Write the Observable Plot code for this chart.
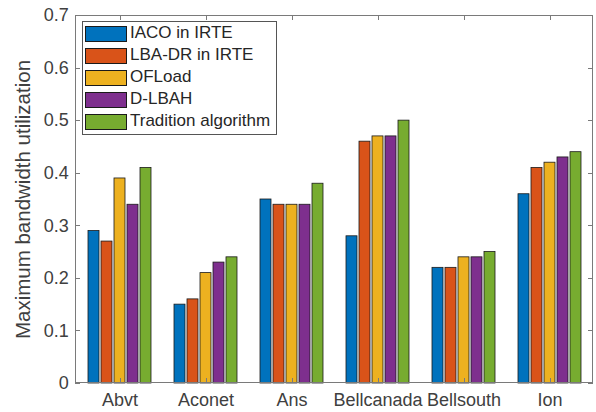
<!DOCTYPE html>
<html>
<head>
<meta charset="utf-8">
<script src="https://cdn.jsdelivr.net/npm/d3@7"></script>
<script src="https://cdn.jsdelivr.net/npm/@observablehq/plot@0.6"></script>
<style>
  html, body { margin: 0; padding: 0; background: #fff; }
  #wrap { position: relative; width: 596px; height: 412px; font-family: "Liberation Sans", Arial, sans-serif; }
  #legend { position: absolute; left: 82px; top: 21px; width: 195px; height: 114px; box-sizing: border-box;
            border: 1px solid #555; background: #fff; }
  .row { position: absolute; left: 2px; height: 16px; }
  .sw { position: absolute; left: 0; top: 0; width: 42px; height: 16px; box-sizing: border-box; border: 1px solid #1a1a1a; }
  .lab { position: absolute; left: 45px; top: -3px; font-size: 17px; line-height: 20px; color: #262626; white-space: nowrap; }
</style>
</head>
<body>
<div id="wrap"><div id="legend"></div></div>
<script>
const categories = ["Abvt", "Aconet", "Ans", "Bellcanada", "Bellsouth", "Ion"];
const series = ["IACO in IRTE", "LBA-DR in IRTE", "OFLoad", "D-LBAH", "Tradition algorithm"];
const colors = ["#0072BD", "#D95319", "#EDB120", "#7E2F8E", "#77AC30"];
const iacoInIRTE   = [0.29, 0.15, 0.35, 0.28, 0.22, 0.36];
const lbaDrInIRTE  = [0.27, 0.16, 0.34, 0.46, 0.22, 0.41];
const ofload       = [0.39, 0.21, 0.34, 0.47, 0.24, 0.42];
const dLbah        = [0.34, 0.23, 0.34, 0.47, 0.24, 0.43];
const tradition    = [0.41, 0.24, 0.38, 0.50, 0.25, 0.44];
const yTicks = [0, 0.1, 0.2, 0.3, 0.4, 0.5, 0.6, 0.7];
const yLabel = "Maximum bandwidth utilization";

const seriesValues = [iacoInIRTE, lbaDrInIRTE, ofload, dLbah, tradition];
const data = categories.flatMap((c, i) => series.map((s, j) => ({category: c, series: s, value: seriesValues[j][i]})));

const W = 596, H = 412, mL = 75, mR = 3, mT = 15, mB = 29;
const pInner = 0.25, pOuter = 0.125;
// the y axis attaches to the first facet, so shift its texts by the outer facet gap
const fxStep = (W - mL - mR) / (categories.length - pInner + 2 * pOuter);
const outerGap = pOuter * fxStep;
const axisColor = "#7a7a7a";

const plot = Plot.plot({
  width: W, height: H,
  marginLeft: mL, marginRight: mR, marginTop: mT, marginBottom: mB,
  style: {fontFamily: "'Liberation Sans', Arial, sans-serif", fontSize: "18px", color: "#404040", background: "white"},
  fx: {domain: categories, paddingInner: pInner, paddingOuter: pOuter, label: null, axis: "bottom", tickSize: 0, tickPadding: 10},
  x: {domain: series, paddingInner: 0.15, paddingOuter: 0, axis: null},
  y: {domain: [0, 0.7], ticks: yTicks, tickFormat: d => d === 0 ? "0" : d.toFixed(1), tickSize: 0, tickPadding: 8 + outerGap,
      label: yLabel, labelAnchor: "center", labelArrow: "none", labelOffset: 61 + outerGap},
  color: {domain: series, range: colors},
  marks: [
    Plot.barY(data, {fx: "category", x: "series", y: "value", fill: "series", stroke: "#1a1a1a", strokeWidth: 0.8})
  ]
});

document.getElementById("wrap").prepend(plot);

// frame and inward ticks, positioned through Plot's scales
const svg = d3.select(plot);
const yS = plot.scale("y"), fxS = plot.scale("fx");
const y0 = yS.apply(0), y1 = yS.apply(0.7);
const x0 = mL, x1 = W - mR;
const g = svg.append("g").attr("fill", "none").attr("stroke", axisColor).attr("stroke-width", 1);
g.append("rect").attr("x", x0 + 0.5).attr("y", y1 + 0.5).attr("width", x1 - x0 - 1).attr("height", y0 - y1 - 1);
const tl = 5;
for (const t of yTicks) {
  const y = Math.round(yS.apply(t)) + 0.5;
  g.append("line").attr("x1", x0).attr("x2", x0 + tl).attr("y1", y).attr("y2", y);
  g.append("line").attr("x1", x1 - tl).attr("x2", x1).attr("y1", y).attr("y2", y);
}
for (const c of categories) {
  const x = Math.round(fxS.apply(c) + fxS.bandwidth / 2) + 0.5;
  g.append("line").attr("x1", x).attr("x2", x).attr("y1", y0).attr("y2", y0 - tl);
  g.append("line").attr("x1", x).attr("x2", x).attr("y1", y1).attr("y2", y1 + tl);
}
svg.selectAll("text").filter(function() { return this.textContent === yLabel; }).attr("font-size", "20.5px");

// legend
const legend = d3.select("#legend");
series.forEach((s, i) => {
  const row = legend.append("div").attr("class", "row").style("top", (4 + i * 22) + "px");
  row.append("div").attr("class", "sw").style("background", colors[i]);
  row.append("div").attr("class", "lab").text(s);
});
</script>
</body>
</html>
